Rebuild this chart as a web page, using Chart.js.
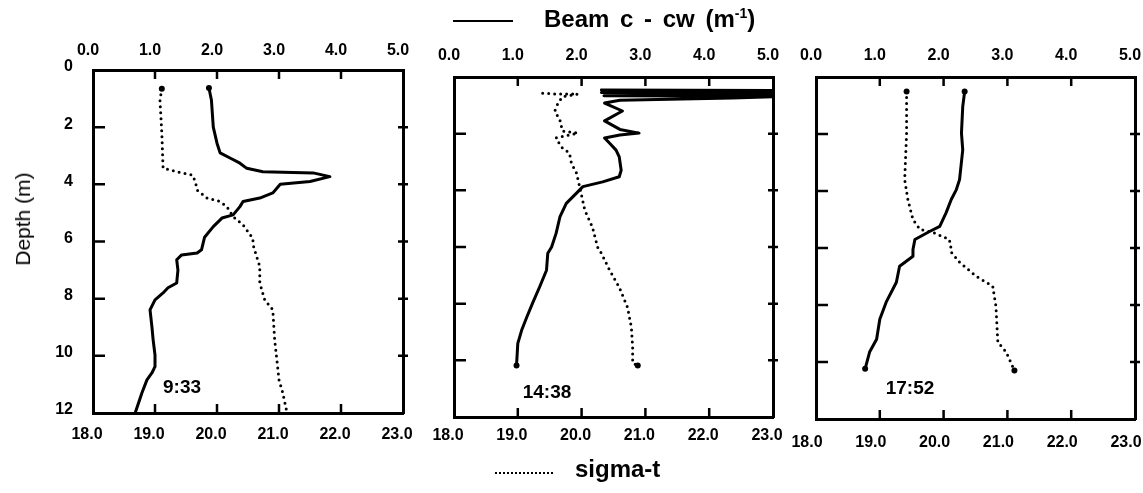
<!DOCTYPE html>
<html>
<head>
<meta charset="utf-8">
<script src="https://cdn.jsdelivr.net/npm/chart.js"></script>
<style>
  html, body { margin: 0; padding: 0; background: #fff; overflow: hidden; }
  body { width: 1143px; height: 493px; position: relative; font-family: "Liberation Sans", Arial, sans-serif; }
  .panel { position: absolute; top: 0; height: 493px; }
  .lbl { position: absolute; color: #000; white-space: nowrap; }
  .time { font-weight: bold; font-size: 19px; transform: translate(-50%, -50%); }
  .key { position: absolute; height: 0; }
</style>
</head>
<body>
<div class="panel" id="p1"><canvas id="c1"></canvas></div>
<div class="panel" id="p2"><canvas id="c2"></canvas></div>
<div class="panel" id="p3"><canvas id="c3"></canvas></div>

<div class="key" style="left:453px; top:20px; width:60px; border-top:2px solid #000;"></div>
<div class="lbl" style="left:544px; top:5px; font-size:24px; font-weight:bold; word-spacing:4px;">Beam c - cw (m<sup style="font-size:14px; vertical-align:9px;">-1</sup>)</div>

<div class="key" style="left:495px; top:472px; width:58px; border-top:2px dotted #000;"></div>
<div class="lbl" style="left:575px; top:455px; font-size:24px; font-weight:bold;">sigma-t</div>

<div class="lbl" style="left:23px; top:219px; font-size:21px; transform: translate(-50%, -50%) rotate(-90deg);">Depth (m)</div>

<div class="lbl time" style="left:182px; top:387px;">9:33</div>
<div class="lbl time" style="left:547px; top:392px;">14:38</div>
<div class="lbl time" style="left:910px; top:388px;">17:52</div>

<script>
// axis ticks
const beamTicks = [0, 1, 2, 3, 4, 5];
const sigmaTicks = [18, 19, 20, 21, 22, 23];
const depthTicks = [0, 2, 4, 6, 8, 10, 12];
const times = ['9:33', '14:38', '17:52'];

// 9:33 profile
const beam1 = [1.87,1.91,1.94,2.0,2.05,2.21,2.37,2.48,2.74,3.55,3.82,3.5,3.02,2.9,2.69,2.42,2.37,2.26,2.08,1.94,1.8,1.75,1.68,1.43,1.35,1.37,1.35,1.21,1.13,1.0,0.92,0.95,0.97,1.0,1.0,0.95,0.87,0.79,0.68];
const beamDepth1 = [0.63,1.05,2.0,2.56,2.9,3.08,3.26,3.44,3.56,3.6,3.73,3.9,4.0,4.3,4.48,4.6,4.78,5.07,5.18,5.48,5.85,6.29,6.4,6.47,6.64,7.0,7.45,7.62,7.8,8.04,8.39,8.98,9.44,9.97,10.38,10.6,10.84,11.29,12.0];
const sigma1 = [19.11,19.08,19.11,19.13,19.35,19.6,19.65,19.68,19.84,20.05,20.16,20.26,20.42,20.58,20.58,20.64,20.69,20.69,20.77,20.9,20.93,20.96,21.0,21.06,21.13];
const sigmaDepth1 = [0.66,1.05,2.2,3.43,3.56,3.67,3.9,4.2,4.48,4.6,4.78,5.13,5.42,5.9,6.1,6.53,6.87,7.45,8.04,8.39,9.44,10.03,10.84,11.29,12.0];

// 14:38 profile
const beam2 = [2.31,5.3,2.31,5.3,2.35,5.3,4.36,2.6,2.36,2.64,2.36,2.6,2.9,2.6,2.36,2.44,2.54,2.59,2.62,2.59,2.33,2.02,1.92,1.76,1.66,1.6,1.53,1.47,1.45,1.34,1.23,1.14,1.06,1.0,0.98];
const beamDepth2 = [0.46,0.48,0.55,0.6,0.66,0.68,0.74,0.82,0.92,1.2,1.55,1.85,1.98,2.05,2.15,2.34,2.58,2.82,3.29,3.52,3.7,3.87,4.1,4.46,4.94,5.52,6.0,6.22,6.82,7.42,7.99,8.48,8.94,9.4,10.18];
const sigma2 = [19.39,19.6,19.94,19.7,19.63,19.58,19.66,19.7,19.94,19.6,19.68,19.81,19.84,19.92,19.97,20.05,20.17,20.25,20.31,20.44,20.59,20.72,20.78,20.8,20.8,20.88];
const sigmaDepth2 = [0.57,0.6,0.6,0.7,0.92,1.2,1.52,1.91,1.98,2.15,2.47,2.69,3.04,3.39,3.88,4.7,5.3,6.0,6.22,6.82,7.42,8.13,8.83,9.54,10.1,10.18];

// 17:52 profile
const beam3 = [2.33,2.3,2.28,2.3,2.25,2.2,2.12,2.04,1.94,1.78,1.55,1.52,1.52,1.31,1.26,1.1,1.0,0.95,0.84,0.77];
const beamDepth3 = [0.51,1.04,1.97,2.56,3.6,3.95,4.3,4.76,5.24,5.42,5.7,6.05,6.29,6.64,7.2,7.9,8.5,9.2,9.65,10.24];
const sigma3 = [19.42,19.42,19.39,19.44,19.52,19.63,19.83,20.09,20.12,20.12,20.25,20.51,20.77,20.82,20.85,20.98,21.11];
const sigmaDepth3 = [0.51,1.97,3.6,4.3,5.0,5.35,5.45,5.7,6.05,6.15,6.5,6.99,7.34,8.04,9.3,9.65,10.3];

// draws the short tick marks pointing into the plot box
const inwardTicks = {
  id: 'inwardTicks',
  afterDraw(chart) {
    const { ctx, chartArea: a, scales } = chart;
    ctx.save();
    ctx.strokeStyle = '#000';
    ctx.lineWidth = 2.5;
    ctx.beginPath();
    beamTicks.slice(1, -1).forEach(v => {
      const x = scales.xb.getPixelForValue(v);
      ctx.moveTo(x, a.top); ctx.lineTo(x, a.top + 9);
    });
    sigmaTicks.slice(1, -1).forEach(v => {
      const x = scales.xs.getPixelForValue(v);
      ctx.moveTo(x, a.bottom); ctx.lineTo(x, a.bottom - 9);
    });
    depthTicks.slice(1, -1).forEach(v => {
      const y = scales.y.getPixelForValue(v);
      ctx.moveTo(a.left, y); ctx.lineTo(a.left + 12, y);
      ctx.moveTo(a.right - 5, y); ctx.lineTo(a.right + 5, y);
    });
    ctx.stroke();
    ctx.restore();
  }
};

const tickFont = { family: 'Liberation Sans', size: 16, weight: 'bold' };

function pts(xs, ys) {
  return xs.map((x, i) => ({ x: x, y: ys[i] }));
}

function endDots(n, first, last) {
  return Array.from({ length: n }, (_, i) => (i === 0 && first) || (i === n - 1 && last) ? 3 : 0);
}

function makePanel(id, canvasId, box, beam, beamDepth, sigma, sigmaDepth, opt) {
  const side = 60;
  const leftW = 48, rightW = 30, topH = 34, bottomH = 38;
  const div = document.getElementById(id);
  div.style.left = (box.left - side) + 'px';
  div.style.width = (box.right - box.left + side * 2) + 'px';

  const axisBorder = { display: true, color: '#000', width: 3 };
  const noGrid = { display: false, drawTicks: false };

  new Chart(document.getElementById(canvasId), {
    type: 'scatter',
    data: {
      datasets: [
        {
          label: 'Beam c - cw',
          data: pts(beam, beamDepth),
          xAxisID: 'xb', yAxisID: 'y',
          showLine: true,
          borderColor: '#000', borderWidth: 3,
          borderJoinStyle: 'round', borderCapStyle: 'round',
          pointRadius: endDots(beam.length, opt.beamDots[0], opt.beamDots[1]),
          pointBackgroundColor: '#000', pointBorderWidth: 0
        },
        {
          label: 'sigma-t',
          data: pts(sigma, sigmaDepth),
          xAxisID: 'xs', yAxisID: 'y',
          showLine: true,
          borderColor: '#000', borderWidth: 3,
          borderDash: [0, 6], borderCapStyle: 'round',
          pointRadius: endDots(sigma.length, opt.sigmaDots[0], opt.sigmaDots[1]),
          pointBackgroundColor: '#000', pointBorderWidth: 0
        }
      ]
    },
    options: {
      responsive: true,
      maintainAspectRatio: false,
      animation: false,
      events: [],
      layout: {
        padding: { left: side - leftW, right: side - rightW, top: box.top - topH, bottom: 493 - box.bottom - bottomH }
      },
      plugins: { legend: { display: false }, tooltip: { enabled: false } },
      scales: {
        xb: {
          type: 'linear', position: 'top', min: 0, max: 5,
          afterBuildTicks: s => { s.ticks = beamTicks.map(v => ({ value: v })); },
          afterFit: s => { s.height = topH; },
          grid: noGrid, border: axisBorder,
          ticks: { font: tickFont, color: '#000', padding: opt.topPad, labelOffset: -5, maxRotation: 0,
                   callback: v => v.toFixed(1) }
        },
        xs: {
          type: 'linear', position: 'bottom', min: 18, max: 23,
          afterBuildTicks: s => { s.ticks = sigmaTicks.map(v => ({ value: v })); },
          afterFit: s => { s.height = bottomH; },
          grid: noGrid, border: axisBorder,
          ticks: { font: tickFont, color: '#000', padding: opt.bottomPad, labelOffset: opt.bottomShift, maxRotation: 0,
                   callback: v => v.toFixed(1) }
        },
        y: {
          type: 'linear', position: 'left', reverse: true, min: 0, max: 12,
          afterBuildTicks: s => { s.ticks = depthTicks.map(v => ({ value: v })); },
          afterFit: s => { s.width = leftW; },
          grid: noGrid, border: axisBorder,
          ticks: { display: opt.depthLabels, font: tickFont, color: '#000', padding: 20, labelOffset: -3 }
        },
        yr: {
          type: 'linear', position: 'right', reverse: true, min: 0, max: 12,
          afterFit: s => { s.width = rightW; },
          grid: noGrid, border: axisBorder,
          ticks: { display: false }
        }
      }
    },
    plugins: [inwardTicks]
  });
}

makePanel('p1', 'c1', { left: 93, right: 403, top: 70, bottom: 413 }, beam1, beamDepth1, sigma1, sigmaDepth1,
  { depthLabels: true, topPad: 10, bottomPad: 12, bottomShift: -6, beamDots: [true, false], sigmaDots: [true, false] });
makePanel('p2', 'c2', { left: 454, right: 773, top: 77, bottom: 417 }, beam2, beamDepth2, sigma2, sigmaDepth2,
  { depthLabels: false, topPad: 12, bottomPad: 9, bottomShift: -6, beamDots: [false, true], sigmaDots: [false, true] });
makePanel('p3', 'c3', { left: 816, right: 1135, top: 77, bottom: 419 }, beam3, beamDepth3, sigma3, sigmaDepth3,
  { depthLabels: false, topPad: 12, bottomPad: 14, bottomShift: -9, beamDots: [true, true], sigmaDots: [true, true] });
</script>
</body>
</html>
